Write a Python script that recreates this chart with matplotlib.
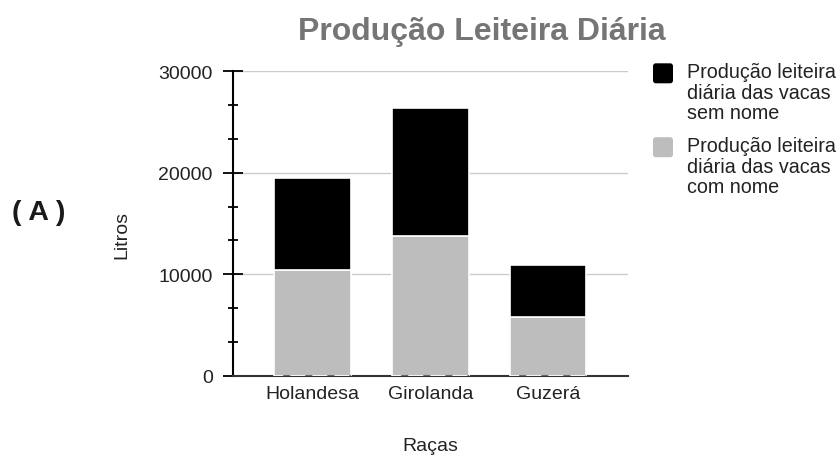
import matplotlib
matplotlib.use("Agg")
import matplotlib.pyplot as plt
import numpy as np
from matplotlib.patches import FancyBboxPatch
from matplotlib.legend_handler import HandlerPatch
from matplotlib.container import BarContainer
from matplotlib.ticker import MultipleLocator

# dados
racas = ["Holandesa", "Girolanda", "Guzerá"]
com_nome = [10400, 13800, 5800]
sem_nome = [9100, 12600, 5100]
rotulos = ["Produção leiteira\ndiária das vacas\nsem nome",
           "Produção leiteira\ndiária das vacas\ncom nome"]
cores = ["#000000", "#bdbdbd"]
y_ticks = [0, 10000, 20000, 30000]
largura = 0.65

plt.rcParams["font.family"] = ["Liberation Sans", "DejaVu Sans"]

fig = plt.figure(figsize=(8.37, 4.56), dpi=100)
ax = fig.add_axes([0.2787, 0.1739, 0.4716, 0.6675])

x = np.arange(len(racas))
b_com = ax.bar(x, com_nome, width=largura, color=cores[1], edgecolor="white", linewidth=1.2, zorder=3)
b_sem = ax.bar(x, sem_nome, bottom=com_nome, width=largura, color=cores[0], edgecolor="white", linewidth=1.2, zorder=3)
# tracejado fraco na base das barras (como no original)
ax.hlines(np.zeros(len(racas)), x - largura / 2, x + largura / 2, colors="#666666",
          linewidth=1.5, linestyles=(6.2, (3.4, 7.2)), zorder=4)

ax.set_xlim(-0.675, 2.68)
ax.set_ylim(0, 30000)
ax.set_xticks(x)
ax.set_xticklabels(racas)
ax.set_yticks(y_ticks)
ax.yaxis.set_minor_locator(MultipleLocator(10000 / 3))
ax.tick_params(axis="y", which="major", direction="inout", length=14.4, width=1.3, pad=7.6, labelsize=14, labelcolor="#222222")
ax.tick_params(axis="y", which="minor", direction="inout", length=6.5, width=1.3)
ax.tick_params(axis="x", length=0, pad=7, labelsize=14, labelcolor="#222222")

ax.yaxis.grid(True, color="#cccccc", linewidth=1)
ax.set_axisbelow(True)
for s in ["top", "right"]:
    ax.spines[s].set_visible(False)
ax.spines["left"].set_linewidth(1.5)
ax.spines["left"].set_color("black")
ax.spines["bottom"].set_linewidth(1.5)
ax.spines["bottom"].set_color("#333333")

ax.set_xlabel("Raças", fontsize=14, color="#222222", va="baseline")
ax.xaxis.set_label_coords(0.5, -0.244)
ax.set_ylabel("Litros", fontsize=14, color="#222222", va="baseline")
ax.yaxis.set_label_coords(-0.270, 0.4655)

fig.text(0.5753, 0.9123, "Produção Leiteira Diária", ha="center", va="baseline",
         fontsize=23, fontweight="bold", color="#757575")
fig.text(0.046, 0.5175, "( A )", ha="center", va="baseline",
         fontsize=20.5, fontweight="bold", color="#1a1a1a")


# quadradinho da legenda alinhado com a primeira linha do texto
def quadrado(legend, orig_handle, xdescent, ydescent, width, height, fontsize):
    s = 14.4
    return FancyBboxPatch((-xdescent, -ydescent + height - s + 6), s, s,
                          boxstyle="round,pad=0,rounding_size=2")


def so_cor(legend_handle, orig_handle):
    legend_handle.set_facecolor(orig_handle[0].get_facecolor())
    legend_handle.set_edgecolor("none")


leg = fig.legend([b_sem, b_com], rotulos, loc="upper left",
                 bbox_to_anchor=(653 / 837, 1 - 63 / 456), frameon=False,
                 fontsize=14.2, handlelength=1.0, handleheight=3.1,
                 handletextpad=0.7, labelspacing=0.69, borderpad=0, borderaxespad=0,
                 handler_map={BarContainer: HandlerPatch(patch_func=quadrado,
                                                         update_func=so_cor)})
for t in leg.get_texts():
    t.set_linespacing(1.11)
    t.set_color("#222222")

fig.savefig("out.png", dpi=100)
